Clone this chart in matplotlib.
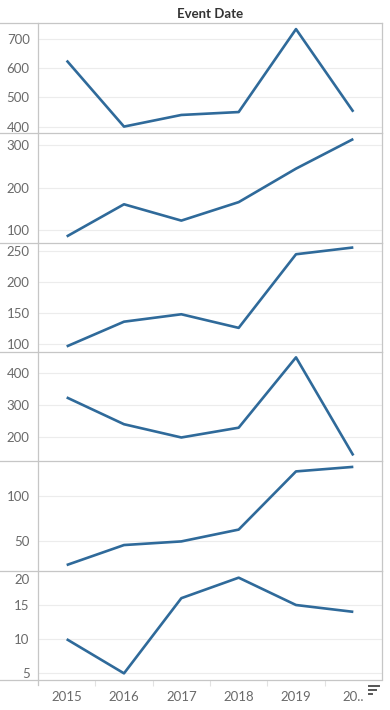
import matplotlib
matplotlib.use("Agg")
import matplotlib.pyplot as plt
from matplotlib.lines import Line2D
from matplotlib.transforms import ScaledTranslation

plt.rcParams['font.family'] = ['Lato', 'DejaVu Sans']

years = ["2015", "2016", "2017", "2018", "2019", "2020"]
x_tick_labels = ["2015", "2016", "2017", "2018", "2019", "20.."]
title = "Event Date"

series_1 = [627, 400, 440, 450, 735, 451]
series_2 = [86, 161, 123, 166, 244, 313]
series_3 = [96, 136, 148, 126, 245, 256]
series_4 = [324, 239, 197, 228, 451, 140]
series_5 = [24, 46, 50, 63, 127, 132]
series_6 = [10, 5, 16, 19, 15, 14]

ticks_1 = [400, 500, 600, 700]
ticks_2 = [100, 200, 300]
ticks_3 = [100, 150, 200, 250]
ticks_4 = [200, 300, 400]
ticks_5 = [50, 100]
ticks_6 = [5, 10, 15, 20]

panels = [
    (series_1, ticks_1, (378, 756)),
    (series_2, ticks_2, (72, 327)),
    (series_3, ticks_3, (87, 264)),
    (series_4, ticks_4, (124, 468)),
    (series_5, ticks_5, (18, 139)),
    (series_6, ticks_6, (4.1, 20.05)),
]

W, H = 390, 710
fig = plt.figure(figsize=(W / 100, H / 100), dpi=100)
fig.patch.set_facecolor("white")

left_px, right_px = 38, 382
bounds = [23, 133, 242.5, 352, 460.5, 570.5, 679.5]
border_col = "#c6c6c6"
grid_col = "#ececec"
line_col = "#2f6a9a"
tick_col = "#6a6a6a"

xs = list(range(len(years)))
axes = []
for i, (vals, ticks, ylim) in enumerate(panels):
    top, bot = bounds[i], bounds[i + 1]
    ax = fig.add_axes([left_px / W, 1 - bot / H, (right_px - left_px) / W, (bot - top) / H])
    ax.plot(xs, vals, color=line_col, lw=1.9, solid_capstyle="butt", clip_on=False, zorder=3)
    ax.set_xlim(-0.5, len(years) - 0.5)
    ax.set_ylim(*ylim)
    ax.set_yticks(ticks)
    ax.set_yticklabels([str(t) for t in ticks])
    ax.grid(axis="y", color=grid_col, lw=0.8, zorder=0)
    ax.tick_params(axis="y", length=0, pad=6, labelsize=9.5, labelcolor=tick_col)
    for s in ["top", "bottom"]:
        ax.spines[s].set_visible(False)
    for s in ["left", "right"]:
        ax.spines[s].set_color(border_col)
        ax.spines[s].set_linewidth(0.9)
    if i < len(panels) - 1:
        ax.set_xticks([])
    else:
        ax.set_xticks(xs)
        ax.set_xticklabels(x_tick_labels)
        ax.set_xticks([k + 0.5 for k in range(len(years) - 1)], minor=True)
        ax.tick_params(axis="x", which="major", length=0, pad=8.5, labelsize=9.5, labelcolor=tick_col)
        ax.tick_params(axis="x", which="minor", length=4, width=0.8, color="#e2e2e2")
    axes.append(ax)

# shift top label of last panel down (kept inside panel)
lab = axes[-1].get_yticklabels()[-1]
lab.set_transform(lab.get_transform() + ScaledTranslation(0, -8 / 100, fig.dpi_scale_trans))

# horizontal separators spanning the label area
for b in bounds:
    fig.add_artist(Line2D([0, right_px / W], [1 - b / H, 1 - b / H], color=border_col, lw=0.9))
# left axis extension below bottom
fig.add_artist(Line2D([left_px / W, left_px / W], [1 - bounds[-1] / H, 1 - 685 / H], color=border_col, lw=0.9))

fig.text(210 / W, 1 - 13.5 / H, title, ha="center", va="center", fontsize=9.5,
         fontweight="bold", color="#333333")

# sort icon
for yy, x1 in [(685.5, 379), (689.5, 375.5), (693.5, 372)]:
    fig.add_artist(Line2D([369 / W, x1 / W], [1 - yy / H, 1 - yy / H], color="#555555", lw=1.4))

fig.savefig("out.png", dpi=100, facecolor="white")
